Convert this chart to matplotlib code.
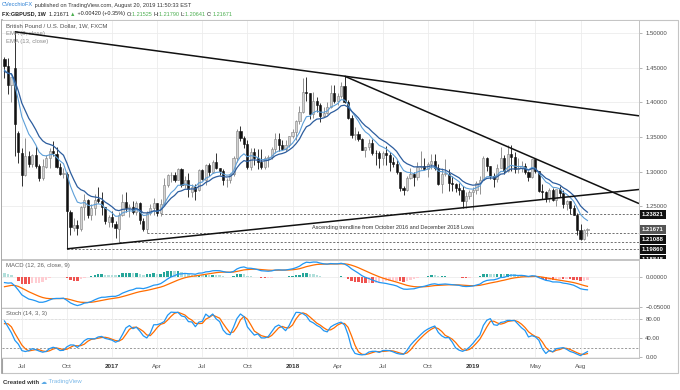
import numpy as np
import pandas as pd
import matplotlib
matplotlib.use("Agg")
import matplotlib.pyplot as plt

plt.rcParams["font.family"] = ["Liberation Sans", "DejaVu Sans"]

# FX:GBPUSD weekly candles (FXCM), first week 30 May 2016, last week 19 Aug 2019
start_week = "2016-05-30"
opens = [
    # 2016
    1.4625, 1.4520, 1.4250, 1.4500, 1.3560, 1.3275, 1.2955, 1.3220, 1.3105, 1.3235, 1.3075, 1.2910, 1.3070,
    1.3190, 1.3300, 1.3260, 1.3060, 1.2960, 1.2970, 1.2410, 1.2190, 1.2225, 1.2175, 1.2485, 1.2595, 1.2375,
    1.2475, 1.2600, 1.2570, 1.2485, 1.2275,
    # 2017
    1.2340, 1.2250, 1.2170, 1.2370, 1.2555, 1.2475, 1.2490, 1.2410, 1.2545, 1.2290, 1.2175, 1.2400, 1.2480,
    1.2545, 1.2400, 1.2535, 1.2810, 1.2945, 1.2955, 1.2885, 1.3030, 1.2800, 1.2885, 1.2710, 1.2780, 1.2735,
    1.3025, 1.2885, 1.3100, 1.2995, 1.3135, 1.3045, 1.3010, 1.2875, 1.2880, 1.2970, 1.3200, 1.3590, 1.3490,
    1.3400, 1.3065, 1.3285, 1.3195, 1.3135, 1.3060, 1.3190, 1.3210, 1.3325, 1.3475, 1.3380, 1.3325, 1.3385,
    # 2018
    1.3510, 1.3570, 1.3725, 1.3865, 1.4150, 1.4130, 1.3825, 1.4025, 1.3965, 1.3795, 1.3850, 1.3930, 1.4140,
    1.4015, 1.4085, 1.4240, 1.4010, 1.3770, 1.3525, 1.3540, 1.3470, 1.3315, 1.3355, 1.3410, 1.3270, 1.3265,
    1.3190, 1.3275, 1.3235, 1.3135, 1.3105, 1.3000, 1.2765, 1.2735, 1.2900, 1.2965, 1.2925, 1.3070, 1.3080,
    1.3030, 1.3115, 1.3155, 1.3050, 1.2815, 1.2970, 1.2970, 1.2830, 1.2815, 1.2765, 1.2735, 1.2580, 1.2650,
    # 2019
    1.2705, 1.2735, 1.2840, 1.2880, 1.3195, 1.3075, 1.2940, 1.2895, 1.3045, 1.3190, 1.3005, 1.3260, 1.3205,
    1.3030, 1.3045, 1.3085, 1.2995, 1.2915, 1.3180, 1.3005, 1.2720, 1.2705, 1.2625, 1.2735, 1.2590, 1.2750,
    1.2695, 1.2525, 1.2570, 1.2470, 1.2380, 1.2160, 1.2030, 1.21525,
]
highs = [
    1.4660, 1.4640, 1.4355, 1.5018, 1.3580, 1.3345, 1.3480, 1.3290, 1.3255, 1.3370, 1.3115, 1.3185, 1.3245,
    1.3340, 1.3445, 1.3355, 1.3120, 1.3055, 1.2990, 1.2450, 1.2335, 1.2305, 1.2510, 1.2675, 1.2600, 1.2525,
    1.2680, 1.2775, 1.2710, 1.2495, 1.2370,
    1.2435, 1.2290, 1.2415, 1.2675, 1.2705, 1.2535, 1.2580, 1.2570, 1.2555, 1.2330, 1.2430, 1.2530, 1.2615,
    1.2545, 1.2600, 1.2905, 1.2965, 1.2990, 1.2990, 1.3050, 1.3045, 1.2940, 1.2975, 1.2815, 1.2815, 1.3030,
    1.3030, 1.3115, 1.3125, 1.3165, 1.3270, 1.3055, 1.3030, 1.2900, 1.2975, 1.3225, 1.3615, 1.3655, 1.3515,
    1.3455, 1.3340, 1.3335, 1.3320, 1.3320, 1.3225, 1.3235, 1.3355, 1.3550, 1.3550, 1.3460, 1.3455, 1.3515,
    1.3615, 1.3745, 1.3945, 1.4345, 1.4365, 1.4140, 1.4145, 1.4070, 1.3990, 1.3930, 1.4000, 1.4245, 1.4245,
    1.4140, 1.4295, 1.4377, 1.4035, 1.3810, 1.3640, 1.3590, 1.3480, 1.3355, 1.3475, 1.3475, 1.3315, 1.3295,
    1.3290, 1.3365, 1.3285, 1.3215, 1.3170, 1.3000, 1.2785, 1.2930, 1.3045, 1.2990, 1.3145, 1.3300, 1.3200,
    1.3145, 1.3260, 1.3255, 1.3105, 1.3045, 1.3175, 1.3030, 1.2930, 1.2840, 1.2840, 1.2790, 1.2700, 1.2730,
    1.2770, 1.2865, 1.2930, 1.3220, 1.3215, 1.3075, 1.2980, 1.3110, 1.3350, 1.3245, 1.3380, 1.3385, 1.3285,
    1.3195, 1.3155, 1.3120, 1.3005, 1.3175, 1.3185, 1.3005, 1.2815, 1.2715, 1.2760, 1.2760, 1.2735, 1.2785,
    1.2735, 1.2585, 1.2580, 1.2520, 1.2405, 1.2250, 1.2170, 1.21790,
]
lows = [
    1.4350, 1.4120, 1.4010, 1.3229, 1.3120, 1.2798, 1.2930, 1.3070, 1.3060, 1.3055, 1.2865, 1.2880, 1.3055,
    1.3055, 1.3225, 1.3045, 1.2945, 1.2910, 1.18848, 1.2085, 1.2135, 1.2080, 1.2135, 1.2300, 1.2330, 1.2300,
    1.2380, 1.2550, 1.2375, 1.2240, 1.2200,
    1.2200, 1.2035, 1.1986, 1.2360, 1.2410, 1.2345, 1.2385, 1.2380, 1.2250, 1.2135, 1.2109, 1.2370, 1.2375,
    1.2365, 1.2365, 1.2515, 1.2770, 1.2845, 1.2845, 1.2880, 1.2775, 1.2765, 1.2635, 1.2635, 1.2590, 1.2725,
    1.2880, 1.2810, 1.2930, 1.2985, 1.3030, 1.2955, 1.2810, 1.2775, 1.2830, 1.2940, 1.3140, 1.3440, 1.3340,
    1.3030, 1.3025, 1.3090, 1.3030, 1.3040, 1.3035, 1.3065, 1.3180, 1.3270, 1.3300, 1.3305, 1.3300, 1.3360,
    1.3490, 1.3460, 1.3690, 1.3840, 1.4025, 1.3765, 1.3770, 1.3855, 1.3710, 1.3790, 1.3825, 1.3915, 1.3985,
    1.3965, 1.4055, 1.3990, 1.3760, 1.3490, 1.3450, 1.3445, 1.3305, 1.3205, 1.3315, 1.3245, 1.3100, 1.3050,
    1.3100, 1.3100, 1.3010, 1.3060, 1.2960, 1.2725, 1.2660, 1.2725, 1.2890, 1.2785, 1.2885, 1.3040, 1.3025,
    1.2920, 1.3030, 1.3020, 1.2800, 1.2695, 1.2935, 1.2720, 1.2725, 1.2700, 1.2660, 1.2477, 1.2480, 1.2600,
    1.2440, 1.2670, 1.2670, 1.2875, 1.3005, 1.2895, 1.2775, 1.2855, 1.3045, 1.2960, 1.2990, 1.3005, 1.2975,
    1.2975, 1.3000, 1.2960, 1.2865, 1.2905, 1.2975, 1.2710, 1.2605, 1.2560, 1.2560, 1.2580, 1.2505, 1.2640,
    1.2475, 1.2440, 1.2385, 1.2380, 1.2080, 1.2015, 1.2015, 1.20641,
]
closes = [
    1.4520, 1.4255, 1.4365, 1.3680, 1.3280, 1.2950, 1.3225, 1.3110, 1.3235, 1.3080, 1.2910, 1.3075, 1.3195,
    1.3300, 1.3265, 1.3065, 1.2970, 1.2975, 1.2430, 1.2195, 1.2225, 1.2185, 1.2485, 1.2595, 1.2380, 1.2475,
    1.2585, 1.2570, 1.2490, 1.2285, 1.2340,
    1.2270, 1.2180, 1.2370, 1.2565, 1.2475, 1.2485, 1.2410, 1.2545, 1.2295, 1.2175, 1.2400, 1.2480, 1.2545,
    1.2400, 1.2535, 1.2810, 1.2945, 1.2955, 1.2885, 1.3030, 1.2800, 1.2885, 1.2745, 1.2780, 1.2725, 1.3025,
    1.2890, 1.3100, 1.2995, 1.3135, 1.3045, 1.3010, 1.2875, 1.2880, 1.2970, 1.3200, 1.3590, 1.3490, 1.3400,
    1.3065, 1.3285, 1.3190, 1.3135, 1.3060, 1.3190, 1.3210, 1.3325, 1.3475, 1.3380, 1.3325, 1.3385, 1.3510,
    1.3570, 1.3725, 1.3865, 1.4150, 1.4130, 1.3825, 1.4025, 1.3965, 1.3795, 1.3850, 1.3930, 1.4140, 1.4015,
    1.4085, 1.4240, 1.4010, 1.3770, 1.3525, 1.3540, 1.3470, 1.3315, 1.3355, 1.3410, 1.3270, 1.3265, 1.3190,
    1.3275, 1.3235, 1.3135, 1.3105, 1.3000, 1.2765, 1.2735, 1.2900, 1.2965, 1.2925, 1.3070, 1.3080, 1.3030,
    1.3115, 1.3155, 1.3050, 1.2815, 1.2970, 1.2970, 1.2830, 1.2815, 1.2765, 1.2735, 1.2580, 1.2650, 1.2705,
    1.2735, 1.2840, 1.2880, 1.3195, 1.3075, 1.2940, 1.2895, 1.3045, 1.3190, 1.3005, 1.3260, 1.3205, 1.3030,
    1.3045, 1.3085, 1.2995, 1.2915, 1.3180, 1.3005, 1.2720, 1.2705, 1.2625, 1.2735, 1.2590, 1.2750, 1.2695,
    1.2525, 1.2570, 1.2470, 1.2380, 1.2160, 1.2030, 1.2150, 1.21671,
]

# weeks before the visible window, only used to seed the EMA / MACD / Stoch
seed_closes = [
    # Jun - Oct 2015
    1.5340, 1.5555, 1.5880, 1.5745, 1.5605, 1.5510, 1.5600, 1.5525, 1.5610, 1.5475, 1.5640, 1.5700, 1.5405,
    1.5160, 1.5430, 1.5520, 1.5195, 1.5185, 1.5310, 1.5480, 1.5315, 1.5425,
    # Nov 2015 - May 2016
    1.5040, 1.5230, 1.5190, 1.5030, 1.5115, 1.5215, 1.4900, 1.4900, 1.4735, 1.4560, 1.4250, 1.4230, 1.4245,
    1.4500, 1.4500, 1.4405, 1.3920, 1.4235, 1.4370, 1.4450, 1.4145, 1.4210, 1.4120, 1.4200, 1.4410, 1.4620,
    1.4440, 1.4370, 1.4490, 1.4625,
]
seed_highs = [
    1.5510, 1.5245, 1.5335, 1.5230, 1.5240, 1.5240, 1.5190, 1.4965, 1.4910, 1.4750, 1.4605, 1.4350, 1.4395,
    1.4670, 1.4590, 1.4665, 1.4440, 1.4245, 1.4380, 1.4515, 1.4460, 1.4460, 1.4305, 1.4350, 1.4415, 1.4635,
    1.4770, 1.4470, 1.4670, 1.4720,
]
seed_lows = [
    1.5025, 1.5025, 1.5170, 1.5030, 1.4895, 1.5015, 1.4895, 1.4805, 1.4700, 1.4540, 1.4235, 1.4080, 1.4080,
    1.4240, 1.4350, 1.4300, 1.3835, 1.3840, 1.4055, 1.4055, 1.4050, 1.4050, 1.4005, 1.4050, 1.4100, 1.4320,
    1.4400, 1.4330, 1.4330, 1.4490,
]

# drawings on the chart
levels = [1.23821, 1.21088, 1.19860, 1.18848]
level_starts = ["2017-04-10", "2017-03-13", "2017-01-16", "2016-10-03"]
last_price = 1.21671
trend_upper = [("2016-06-20", 1.5018), ("2018-04-16", 1.4377)]
trend_mid = [("2018-04-16", 1.4377), ("2019-05-06", 1.3185)]
trend_asc = [("2016-10-03", 1.18848), ("2018-12-10", 1.2477)]
note = "Ascending trendline from October 2016 and December 2018 Lows"
note_at = ("2018-07-23", 1.2197)

time_ticks = ["2016-07-04", "2016-10-03", "2017-01-02", "2017-04-03", "2017-07-03", "2017-10-02",
              "2018-01-01", "2018-04-02", "2018-07-02", "2018-10-01", "2018-12-31", "2019-05-06", "2019-08-05"]
time_labels = ["Jul", "Oct", "2017", "Apr", "Jul", "Oct", "2018", "Apr", "Jul", "Oct", "2019", "May", "Aug"]
price_ticks = [1.25, 1.30, 1.35, 1.40, 1.45, 1.50]

# ---------------------------------------------------------------------------
n = len(closes)
dates = pd.date_range(start_week, periods=n, freq="7D")
idx = np.arange(n)


def wk(d):
    return (pd.Timestamp(d) - dates[0]).days / 7.0


o = np.array(opens)
h = np.array(highs)
l = np.array(lows)
c = np.array(closes)

# indicators
cl_all = pd.Series(seed_closes + closes)
ema8 = cl_all.ewm(span=8, adjust=False).mean().values[-n:]
ema13 = cl_all.ewm(span=13, adjust=False).mean().values[-n:]
macd_all = cl_all.ewm(span=12, adjust=False).mean() - cl_all.ewm(span=26, adjust=False).mean()
sig_all = macd_all.ewm(span=9, adjust=False).mean()
hist_all = (macd_all - sig_all).values
macd = macd_all.values[-n:]
signal = sig_all.values[-n:]
hist = hist_all[-n:]
hist_prev = hist_all[-n - 1:-1]

hi_s = pd.Series(seed_highs + highs)
lo_s = pd.Series(seed_lows + lows)
cl_s = pd.Series(seed_closes[-len(seed_highs):] + closes)
ll = lo_s.rolling(14).min()
hh = hi_s.rolling(14).max()
stoch_k = (100 * (cl_s - ll) / (hh - ll)).rolling(3).mean()
stoch_d = stoch_k.rolling(3).mean()
stoch_k = stoch_k.values[-n:]
stoch_d = stoch_d.values[-n:]

# ---------------------------------------------------------------------------
W, H = 680, 390
fig = plt.figure(figsize=(W / 100, H / 100), dpi=100)


def px_axes(x0, y0, x1, y1):
    return fig.add_axes([x0 / W, 1 - y1 / H, (x1 - x0) / W, (y1 - y0) / H])


ax_bg = fig.add_axes([0, 0, 1, 1])
ax_bg.set_xlim(0, W)
ax_bg.set_ylim(H, 0)
ax_bg.axis("off")

ax = px_axes(2, 20, 639, 259)
ax_m = px_axes(2, 260, 639, 307.5)
ax_s = px_axes(2, 308, 639, 358)
ax_scale = px_axes(639, 20, 678, 259)

xlim = (-0.72, 182.85)
grid_c = "#ececec"
txt_c = "#4a4a4a"
fs = 4.3
tick_x = [wk(d) for d in time_ticks]

for a in (ax, ax_m, ax_s):
    a.set_xlim(*xlim)
    a.set_xticks(tick_x)
    a.grid(True, color=grid_c, lw=0.6, zorder=0)
    a.yaxis.tick_right()
    a.tick_params(axis="y", length=2.5, width=0.5, color="#999999", labelsize=fs, labelcolor=txt_c, pad=2)
    a.tick_params(axis="x", length=0, labelbottom=False)
    for s in a.spines.values():
        s.set_color("#c4c4c4")
        s.set_linewidth(0.7)
    a.spines["left"].set_visible(False)

# main panel
ax.set_ylim(1.17379, 1.51876)
ax.set_yticks(price_ticks)
ax.set_yticklabels(["%.5f" % p for p in price_ticks])

up = c >= o
body_lo = np.minimum(o, c)
body_h = np.maximum(np.abs(c - o), 0.0007)
ax.vlines(idx[up], l[up], h[up], color="#808080", lw=0.6, zorder=3)
ax.vlines(idx[~up], l[~up], h[~up], color="#111111", lw=0.6, zorder=3)
ax.bar(idx[up], body_h[up], bottom=body_lo[up], width=0.62, color="#d2d2d2", edgecolor="#808080",
       linewidth=0.4, zorder=4)
ax.bar(idx[~up], body_h[~up], bottom=body_lo[~up], width=0.62, color="#111111", edgecolor="#111111",
       linewidth=0.4, zorder=4)

ax.plot(idx, ema8, color="#5d9fd8", lw=0.8, zorder=5)
ax.plot(idx, ema13, color="#2c5d9e", lw=0.9, zorder=5)

for (d0, p0), (d1, p1) in (trend_upper, trend_mid, trend_asc):
    x0, x1 = wk(d0), wk(d1)
    slope = (p1 - p0) / (x1 - x0)
    ax.plot([x0, xlim[1]], [p0, p0 + slope * (xlim[1] - x0)], color="#111111", lw=1.1, zorder=6,
            solid_capstyle="butt")

for lev, d0 in zip(levels, level_starts):
    ax.plot([wk(d0), xlim[1]], [lev, lev], color="#5a5a5a", lw=0.6, ls=(0, (2.5, 2)), zorder=2)

ax.text(wk(note_at[0]), note_at[1], note, fontsize=4.0, color="#333333", ha="center", va="center", zorder=7)

ax.text(0.0065, 0.985, "British Pound / U.S. Dollar, 1W, FXCM", transform=ax.transAxes, fontsize=fs,
        color="#505050", va="top", ha="left")
ax.text(0.0065, 0.952, "EMA (8, close)", transform=ax.transAxes, fontsize=fs, color="#8a8a8a", va="top")
ax.text(0.0065, 0.919, "EMA (13, close)", transform=ax.transAxes, fontsize=fs, color="#8a8a8a", va="top")

# price scale boxes, pushed down so they do not overlap
ax_scale.set_ylim(ax.get_ylim())
ax_scale.set_xlim(0, 1)
ax_scale.axis("off")
gap = 10 / 692.8
box_items = sorted([(lev, "#111111") for lev in levels] + [(last_price, "#555555")], reverse=True)
prev = None
for lev, col in box_items:
    pos = lev if prev is None else min(lev, prev - gap)
    prev = pos
    ax_scale.text(0.07, pos, "%.5f" % lev, fontsize=fs, color="white", fontweight="bold", va="center",
                  ha="left", clip_on=True,
                  bbox=dict(boxstyle="square,pad=0.35", fc=col, ec="none"))

# MACD panel
ax_m.set_ylim(-0.05083, 0.02833)
ax_m.set_yticks([0.0, -0.05])
ax_m.set_yticklabels(["0.00000", "\u22120.05000"])
hcol = np.where(hist >= 0,
                np.where(hist > hist_prev, "#26a69a", "#b2dfdb"),
                np.where(hist > hist_prev, "#ffcdd2", "#ef5350"))
ax_m.bar(idx, hist, width=0.7, color=hcol, zorder=2)
ax_m.plot(idx, signal, color="#ff6d00", lw=0.9, zorder=3)
ax_m.plot(idx, macd, color="#2196f3", lw=0.9, zorder=4)
ax_m.text(0.0065, 0.93, "MACD (12, 26, close, 9)", transform=ax_m.transAxes, fontsize=fs, color="#606060",
          va="top")

# Stoch panel
ax_s.set_ylim(-2.1, 103.16)
ax_s.set_yticks([80, 40, 0])
ax_s.set_yticklabels(["80.00", "40.00", "0.00"])
for lv in (80, 20):
    ax_s.axhline(lv, color="#8a8a8a", lw=0.6, ls=(0, (2.5, 2)), zorder=1)
ax_s.plot(idx, stoch_d, color="#ff6d00", lw=0.9, zorder=3)
ax_s.plot(idx, stoch_k, color="#2196f3", lw=0.9, zorder=4)
ax_s.text(0.0065, 0.93, "Stoch (14, 3, 3)", transform=ax_s.transAxes, fontsize=fs, color="#606060", va="top")

ax_s.tick_params(axis="x", labelbottom=True, labelsize=fs + 0.3, labelcolor="#555555", pad=4)
ax_s.set_xticklabels(time_labels)
for t in ax_s.get_xticklabels():
    if t.get_text().isdigit():
        t.set_fontweight("bold")
        t.set_color("#333333")

# outer frame
ax_bg.plot([2, 678, 678, 2, 2], [20, 20, 373, 373, 20], color="#c4c4c4", lw=0.8)
ax_bg.plot([2, 2], [20, 373], color="#9a9a9a", lw=1.2)


# header lines and footer
def chain(parts, x, y, size):
    t = None
    for s, col, wt in parts:
        if t is None:
            t = ax_bg.text(x, y, s, fontsize=size, color=col, fontweight=wt, va="center", ha="left")
        else:
            t = ax_bg.annotate(s, xy=(1, 0.5), xycoords=t, fontsize=size, color=col, fontweight=wt,
                               va="center", ha="left")
    return t


green = "#4caf50"
chain([("CVecchioFX", "#2a7fd4", "normal"),
       (" published on TradingView.com, August 20, 2019 11:50:33 EST", "#333333", "normal")], 2, 5, 4.1)
chain([("FX:GBPUSD, 1W", "#222222", "bold"), ("  1.21671 ", "#222222", "normal"), ("\u25b2", green, "normal"),
       (" +0.00420 (+0.35%) ", "#222222", "normal"),
       ("O:", "#222222", "normal"), ("1.21525 ", green, "normal"),
       ("H:", "#222222", "normal"), ("1.21790 ", green, "normal"),
       ("L:", "#222222", "normal"), ("1.20641 ", green, "normal"),
       ("C:", "#222222", "normal"), ("1.21671", green, "normal")], 2, 14, 4.0)
chain([("Created with ", "#333333", "bold"), ("\u2601", "#5aa9e6", "normal"),
       (" TradingView", "#7ab8e8", "normal")], 3, 382, 4.3)

fig.savefig("out.png", dpi=100)
